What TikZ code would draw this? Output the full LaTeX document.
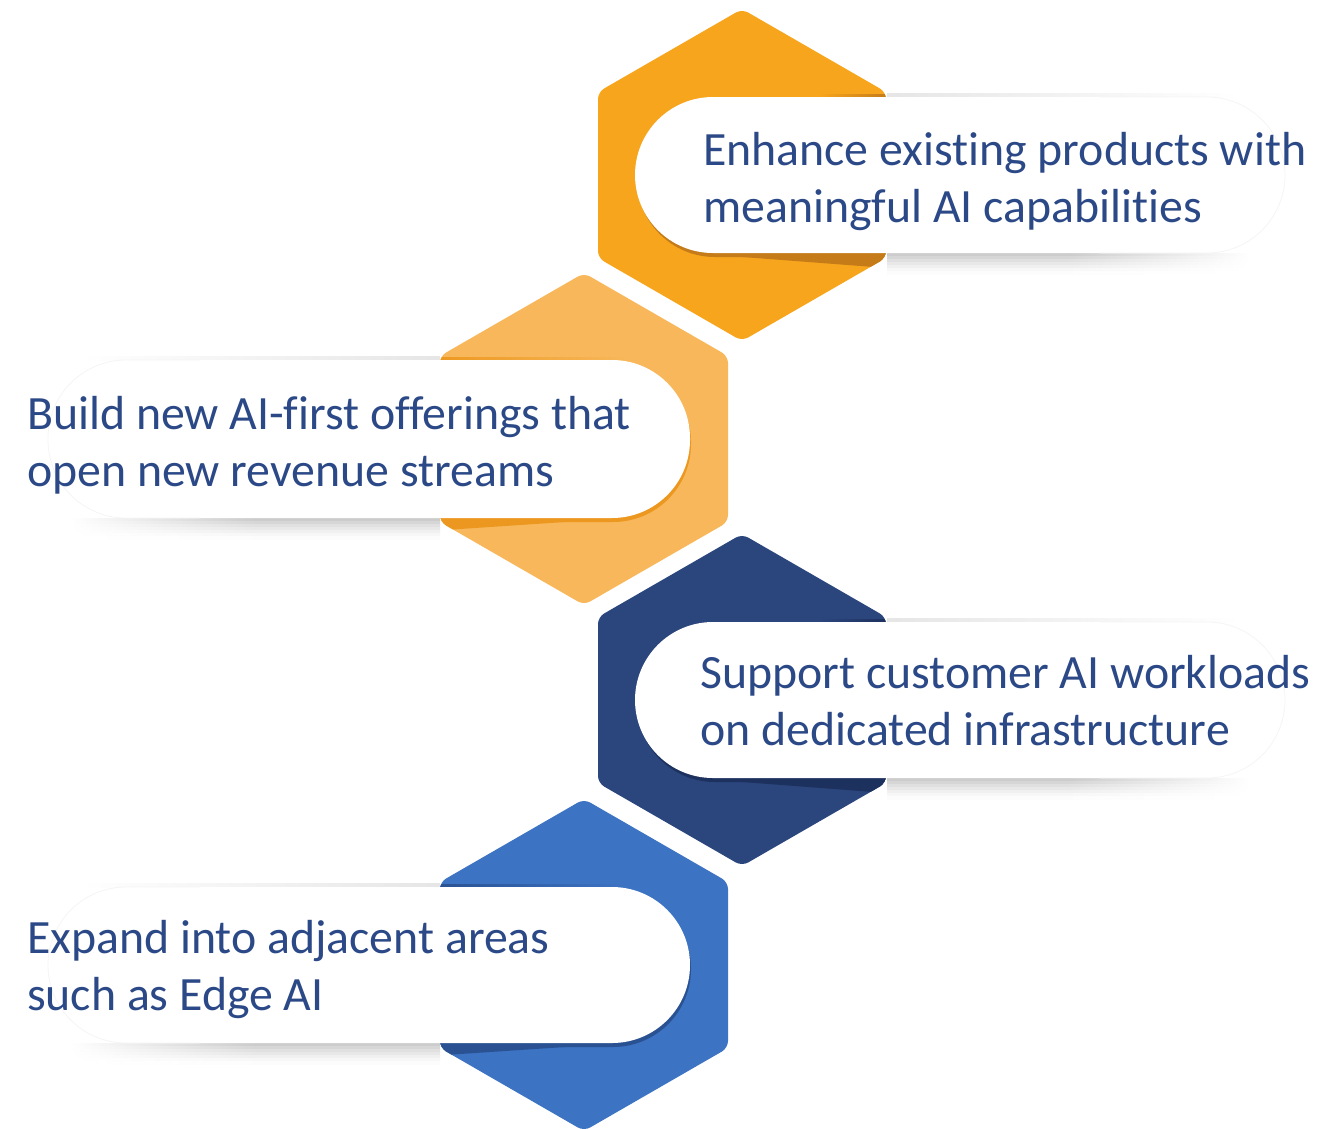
\documentclass[tikz,border=0pt]{standalone}
\usepackage{fontspec}
\setmainfont{Carlito}[Ligatures={NoCommon}]
\definecolor{hexA}{RGB}{247,165,29}
\definecolor{hexAd}{RGB}{196,123,24}
\definecolor{hexB}{RGB}{247,183,90}
\definecolor{hexBd}{RGB}{236,152,32}
\definecolor{hexC}{RGB}{43,69,125}
\definecolor{hexCd}{RGB}{29,49,94}
\definecolor{hexD}{RGB}{60,115,195}
\definecolor{hexDd}{RGB}{42,82,146}
\definecolor{txtblue}{RGB}{44,73,135}
\newcommand\hexat[2]{(#1,#2-166) -- (#1+144,#2-83) -- (#1+144,#2+83) -- (#1,#2+166) -- (#1-144,#2+83) -- (#1-144,#2-83) -- cycle}
\tikzset{
  hexcorner/.style={rounded corners=7pt},
  barshape/.style={rounded corners=78pt},
  bartext/.style={text=txtblue, font=\fontsize{47.8}{57}\selectfont, inner sep=0pt, anchor=base west},
  faintedge/.style={draw=black!4, line width=0.8pt, rounded corners=78pt},
}
\begin{document}
\begin{tikzpicture}[x=1pt,y=-1pt]
\useasboundingbox (0,0) rectangle (1343,1128);

% ---------- hexagons ----------
\fill[hexA, hexcorner] \hexat{742}{175};
\fill[hexB, hexcorner] \hexat{584}{439};
\fill[hexC, hexcorner] \hexat{742}{700};
\fill[hexD, hexcorner] \hexat{584}{965};

% ---------- dark shadows inside the hexagons ----------
\begin{scope}
  \clip[hexcorner] \hexat{742}{175};
  \fill[hexAd, barshape] (637,101) rectangle (1290,257);
  \fill[hexAd] (690,253) -- (900,253) -- (900,269) -- cycle;
  \shade[left color=hexA, right color=hexAd] (820,94) rectangle (888,97.5);
\end{scope}
\begin{scope}
  \clip[hexcorner] \hexat{584}{439};
  \fill[hexBd, barshape] (49,364) rectangle (691,522);
  \fill[hexBd] (625,518) -- (430,518) -- (430,531) -- cycle;
  \shade[left color=hexBd, right color=hexB] (435,357) rectangle (625,360.5);
\end{scope}
\begin{scope}
  \clip[hexcorner] \hexat{742}{700};
  \fill[hexCd, barshape] (637,626) rectangle (1290,782);
  \fill[hexCd] (690,778) -- (900,778) -- (900,794) -- cycle;
  \shade[left color=hexC, right color=hexCd] (820,619) rectangle (888,622.5);
\end{scope}
\begin{scope}
  \clip[hexcorner] \hexat{584}{965};
  \fill[hexDd, barshape] (49,891) rectangle (691,1047);
  \fill[hexDd] (625,1043) -- (430,1043) -- (430,1056) -- cycle;
  \shade[left color=hexDd, right color=hexD] (435,884) rectangle (625,887.5);
\end{scope}

% ---------- soft grey shadows outside the hexagons ----------
\foreach \i/\c in {0/20,1/16,2/12,3/9,4/6,5/3,6/1}{
  \shade[left color=black!\c, right color=white, middle color=black!\c] (887,{253+3*\i}) rectangle (1250,{256+3*\i});
  \shade[left color=black!\c, right color=white, middle color=black!\c] (887,{778+3*\i}) rectangle (1250,{781+3*\i});
  \shade[left color=white, right color=black!\c, middle color=black!\c] (70,{518+3*\i}) rectangle (440,{521+3*\i});
  \shade[left color=white, right color=black!\c, middle color=black!\c] (70,{1043+3*\i}) rectangle (440,{1046+3*\i});
}
\shade[left color=black!10, right color=white] (887,93) rectangle (1240,97);
\shade[left color=black!10, right color=white] (887,618) rectangle (1240,622);
\shade[left color=white, right color=black!10] (80,356) rectangle (440,360);
\shade[left color=white, right color=black!10] (80,883) rectangle (440,887);

% ---------- white bars ----------
\fill[white, barshape] (635,97) rectangle (1285,253);
\fill[white, barshape] (48,360) rectangle (690,518);
\fill[white, barshape] (635,622) rectangle (1285,778);
\fill[white, barshape] (48,887) rectangle (690,1043);
\begin{scope}
  \clip (1100,0) rectangle (1343,1128);
  \path[faintedge] (635,97) rectangle (1285,253);
  \path[faintedge] (635,622) rectangle (1285,778);
\end{scope}
\begin{scope}
  \clip (0,0) rectangle (200,1128);
  \path[faintedge] (48,360) rectangle (690,518);
  \path[faintedge] (48,887) rectangle (690,1043);
\end{scope}

% ---------- texts ----------
\node[bartext] (t1) at (703,165) {\begin{tabular}[t]{@{}l@{}}Enhance existing products with\\ meaningful AI capabilities\end{tabular}};
\node[bartext] (t2) at (27,429) {\begin{tabular}[t]{@{}l@{}}Build new AI-first offerings that\\ open new revenue streams\end{tabular}};
\node[bartext] (t3) at (700,688) {\begin{tabular}[t]{@{}l@{}}Support customer AI workloads\\ on dedicated infrastructure\end{tabular}};
\node[bartext] (t4) at (27,953) {\begin{tabular}[t]{@{}l@{}}Expand into adjacent areas\\ such as Edge AI\end{tabular}};
\end{tikzpicture}
\end{document}
